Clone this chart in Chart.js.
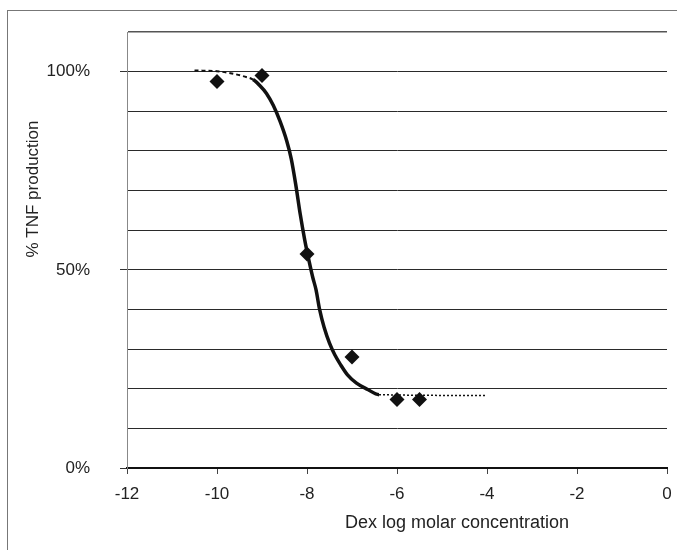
<!DOCTYPE html>
<html>
<head>
<meta charset="utf-8">
<script src="https://cdn.jsdelivr.net/npm/chart.js@4/dist/chart.umd.min.js"></script>
<style>
    body { margin: 0; background: #fff; }
    .frame {
        position: absolute; left: 7px; top: 10px; width: 720px; height: 600px;
        border: 1px solid #777;
    }
    #chart { position: absolute; left: 0; top: 0; }
</style>
</head>
<body>
<div class="frame"></div>
<canvas id="chart" width="677" height="550"></canvas>
<script>
const X_TITLE = 'Dex log molar concentration';
const Y_TITLE = '% TNF production';
const Y_LABELED = [0, 50, 100];

// measured points (diamonds)
const markerX = [-10, -9, -8, -7, -6, -5.5];
const markerY = [97.5, 99, 54, 28, 17.3, 17.3];

// fitted curve
const curveX = [-10.5, -10.0, -9.7, -9.4, -9.2, -9.05, -8.9, -8.75, -8.6, -8.45, -8.35, -8.25, -8.15,
    -8.05, -7.95, -7.87, -7.8, -7.72, -7.62, -7.5, -7.38, -7.25, -7.1, -6.9, -6.65, -6.4, -4.0];
const curveY = [100.3, 100.1, 99.6, 98.8, 98.0, 96.5, 94.5, 91.5, 87.5, 82.5, 78, 71.5, 64,
    57.5, 52, 48, 45, 40, 35.5, 31.5, 28.5, 26, 23.5, 21.4, 19.8, 18.5, 18.3];

const FONT = {family: '"Liberation Sans", Arial, sans-serif', size: 17};

const axisTitles = {
    id: 'axisTitles',
    afterDraw(chart) {
        const ctx = chart.ctx;
        ctx.save();
        ctx.fillStyle = '#222';
        ctx.font = `18px ${FONT.family}`;
        ctx.textAlign = 'center';
        ctx.textBaseline = 'middle';
        ctx.fillText(X_TITLE, 457, 523);
        ctx.font = `${FONT.size}px ${FONT.family}`;
        ctx.translate(33, 189);
        ctx.rotate(-Math.PI / 2);
        ctx.fillText(Y_TITLE, 0, 0);
        ctx.restore();
    }
};

function segStyle(ctx, early, mid, late) {
    let x = ctx.p0.parsed.x;
    if (x < -9.35) return early;
    if (x >= -6.45) return late;
    return mid;
}

new Chart(document.getElementById('chart'), {
    type: 'scatter',
    data: {
        datasets: [{
            data: curveX.map((x, i) => ({x: x, y: curveY[i]})),
            showLine: true,
            borderColor: '#111',
            borderWidth: 3.5,
            pointRadius: 0,
            cubicInterpolationMode: 'monotone',
            segment: {
                borderDash: ctx => segStyle(ctx, [4, 3], undefined, [2, 2]),
                borderWidth: ctx => segStyle(ctx, 2, 3.5, 1.5)
            }
        }, {
            data: markerX.map((x, i) => ({x: x, y: markerY[i]})),
            pointStyle: 'rectRot',
            pointRadius: 7.5,
            backgroundColor: '#111',
            borderColor: '#111',
            borderWidth: 0
        }]
    },
    options: {
        responsive: false,
        animation: false,
        layout: {padding: {top: 32, right: 10, left: 0, bottom: 0}},
        plugins: {legend: {display: false}, tooltip: {enabled: false}},
        scales: {
            x: {
                min: -12,
                max: 0,
                afterFit: scale => {
                    scale.height = 82;
                    scale.paddingLeft = 0;
                    scale.paddingRight = 0;
                },
                ticks: {stepSize: 2, color: '#222', font: FONT, padding: 10, maxRotation: 0},
                grid: {drawOnChartArea: false, tickLength: 6, tickColor: '#444'},
                border: {color: '#111', width: 2}
            },
            y: {
                min: 0,
                max: 110,
                afterFit: scale => {
                    scale.width = 127;
                    scale.paddingTop = 0;
                    scale.paddingBottom = 0;
                },
                ticks: {
                    stepSize: 10,
                    color: '#222',
                    font: FONT,
                    padding: 30,
                    callback: v => Y_LABELED.includes(v) ? v + '%' : ''
                },
                grid: {
                    color: ctx => ctx.tick && ctx.tick.value === 110 ? '#555' : '#2a2a2a',
                    lineWidth: ctx => ctx.tick && ctx.tick.value === 110 ? 1.5 : 1,
                    tickLength: 7,
                    tickColor: ctx => Y_LABELED.includes(ctx.tick.value) ? '#333' : 'rgba(0,0,0,0)'
                },
                border: {color: '#888', width: 1}
            }
        }
    },
    plugins: [axisTitles]
});
</script>
</body>
</html>
